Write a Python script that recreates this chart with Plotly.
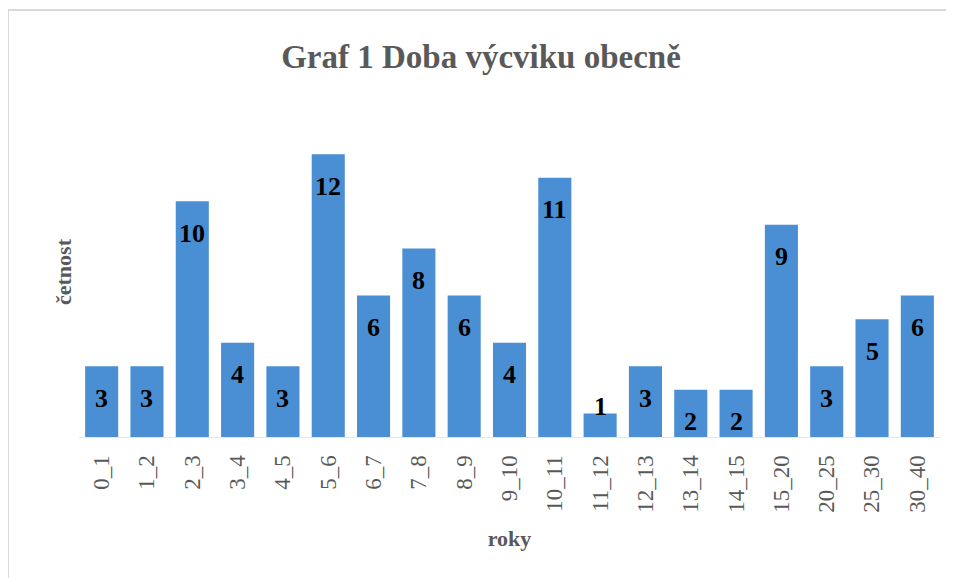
import plotly.graph_objects as go

roky = ['0_1', '1_2', '2_3', '3_4', '4_5', '5_6', '6_7', '7_8', '8_9', '9_10',
        '10_11', '11_12', '12_13', '13_14', '14_15', '15_20', '20_25', '25_30', '30_40']
cetnost = [3, 3, 10, 4, 3, 12, 6, 8, 6, 4, 11, 1, 3, 2, 2, 9, 3, 5, 6]

# stranka ma 8px okraj tela, proto je obrazek o 8px mensi
W, H = 946, 570
L, R, T, B = 71, 14, 99, 141
serif = 'Liberation Serif, Times New Roman, serif'
ymax = 14
unit = (H - T - B) / ymax

fig = go.Figure()
fig.add_bar(x=roky, y=cetnost, marker=dict(color='#4A8FD3', line=dict(width=0)),
            width=0.73, hoverinfo='x+y')

# datove popisky uvnitr sloupcu (u kratkych nad sloupcem)
for k, v in zip(roky, cetnost):
    inside = v * unit > 40
    fig.add_annotation(x=k, y=v, text=f'<b>{v}</b>', showarrow=False,
                       yanchor='middle' if inside else 'bottom',
                       yshift=-32 if inside else -10,
                       font=dict(family=serif, size=26, color='black'))

# ramecek grafu
pw, ph = W - L - R, H - T - B
def px(x): return (x - L) / pw
def py(y): return (H - B - y) / ph
fig.add_shape(type='line', xref='paper', yref='paper', x0=px(0), x1=px(960), y0=py(2), y1=py(2),
              line=dict(color='#D9D9D9', width=2))
fig.add_shape(type='line', xref='paper', yref='paper', x0=px(0), x1=px(0), y0=py(2), y1=py(590),
              line=dict(color='#D9D9D9', width=2))

fig.update_layout(
    width=W, height=H, margin=dict(l=L, r=R, t=T, b=B),
    paper_bgcolor='white', plot_bgcolor='white', showlegend=False,
    title=dict(text='<b>Graf 1 Doba výcviku obecně</b>', x=0.5, xanchor='center',
               y=1 - 48 / H, yanchor='middle',
               font=dict(family=serif, size=33, color='#595959')),
)
fig.update_xaxes(type='category', tickangle=-90, showline=True, linecolor='#E6E6E6',
                 ticks='', ticklabelstandoff=8,
                 tickfont=dict(family=serif, size=23, color='#595959'),
                 title=dict(text='<b>roky</b>', font=dict(family=serif, size=22, color='#595959'), standoff=18))
fig.update_yaxes(range=[0, ymax], showticklabels=False, showgrid=False, zeroline=False,
                 title=dict(text='<b>četnost</b>', font=dict(family=serif, size=22, color='#595959'), standoff=0))

fig.write_html("out.html")
